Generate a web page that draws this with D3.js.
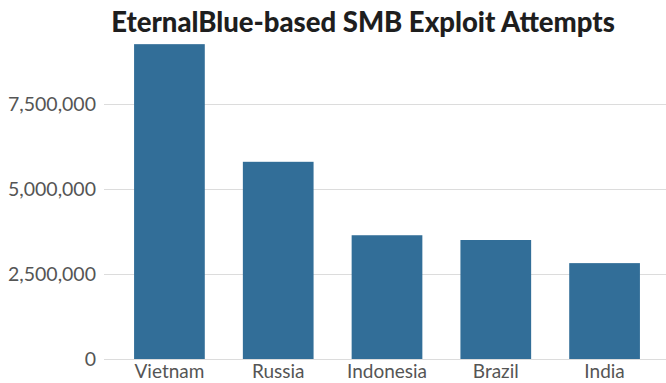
<!DOCTYPE html>
<html>
<head>
<meta charset="utf-8">
<script src="https://cdn.jsdelivr.net/npm/d3@7"></script>
<style>
  html, body { margin: 0; padding: 0; background: #fff; }
  svg { display: block; }
  .tick text { font-family: Lato, "Open Sans", sans-serif; }
</style>
</head>
<body>
<svg id="chart" width="666" height="383"></svg>
<script>
// Attack attempts by country
const countries = ["Vietnam", "Russia", "Indonesia", "Brazil", "India"];
const attempts = [9260000, 5800000, 3640000, 3500000, 2820000];
const yTicks = [0, 2500000, 5000000, 7500000];
const title = "EternalBlue-based SMB Exploit Attempts";

const width = 666, height = 383;
const svg = d3.select("#chart");

const x = d3.scaleBand()
  .domain(countries)
  .range([96, 678])
  .paddingInner(0.35)
  .paddingOuter(0.35);

const y = d3.scaleLinear()
  .domain([0, 10000000])
  .range([359, 19]);

// Horizontal gridlines with value labels
const yAxis = svg.append("g")
  .attr("transform", "translate(104,0)")
  .call(d3.axisLeft(y)
    .tickValues(yTicks)
    .tickFormat(d3.format(","))
    .tickSize(0)
    .tickPadding(8));
yAxis.select(".domain").remove();
yAxis.selectAll(".tick text")
  .attr("fill", "#555")
  .style("font-size", "19.5px");
yAxis.selectAll(".tick").append("line")
  .attr("x1", 0)
  .attr("x2", width - 104)
  .attr("stroke", "#dcdcdc")
  .attr("stroke-width", 1);

// Bars
svg.append("g")
  .selectAll("rect")
  .data(countries)
  .join("rect")
  .attr("x", d => x(d))
  .attr("width", x.bandwidth())
  .attr("y", (d, i) => y(attempts[i]))
  .attr("height", (d, i) => y(0) - y(attempts[i]))
  .attr("fill", "#326e98");

// Country labels
const xAxis = svg.append("g")
  .attr("transform", "translate(0,359)")
  .call(d3.axisBottom(x).tickSize(0).tickPadding(6));
xAxis.select(".domain").remove();
xAxis.selectAll(".tick text")
  .attr("fill", "#555")
  .style("font-size", "19px");

// Title
svg.append("text")
  .attr("x", 363)
  .attr("y", 32)
  .attr("text-anchor", "middle")
  .attr("fill", "#1e1e1e")
  .style("font-family", "Lato, 'Open Sans', sans-serif")
  .style("font-weight", "900")
  .style("font-size", "27.5px")
  .text(title);
</script>
</body>
</html>
